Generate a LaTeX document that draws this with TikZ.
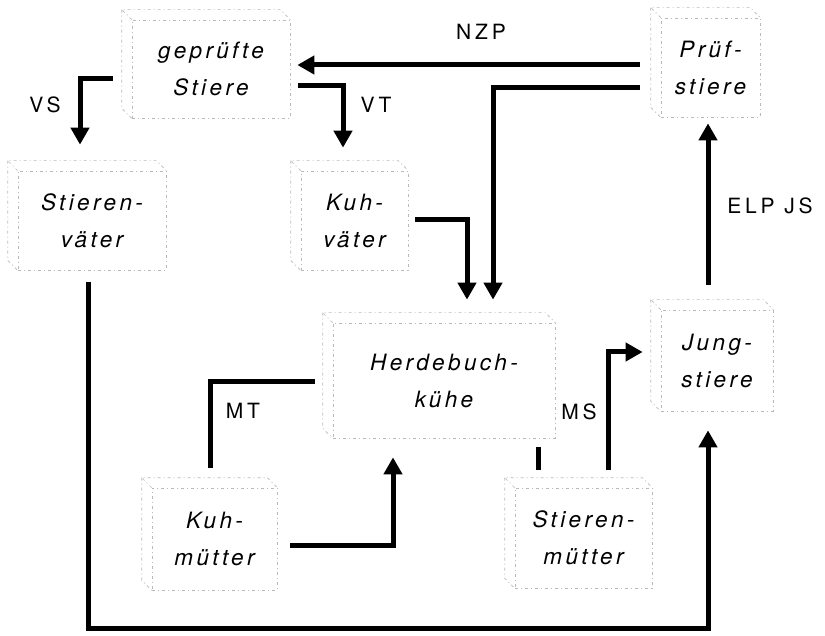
\documentclass[tikz,border=0pt]{standalone}
\usepackage{fontspec}
\setmainfont{TeX Gyre Heros}
\newfontfamily\stagefont[LetterSpace=15]{TeX Gyre Heros}
\newfontfamily\flowfont[LetterSpace=18]{TeX Gyre Heros}
\usetikzlibrary{arrows.meta,calc}

\tikzset{
  stage/.style={rectangle, inner sep=0pt, align=center,
    draw=gray!55, line width=0.7pt, dash pattern=on 3pt off 3pt on 1pt off 3pt,
    font=\stagefont\itshape\fontsize{22.5}{37}\selectfont},
  cubeline/.style={draw=gray!55, line width=0.7pt, dash pattern=on 3pt off 3pt on 1pt off 3pt},
  flow/.style={line width=5pt, line join=miter, -{Triangle[width=18pt,length=17pt]}},
  link/.style={line width=5pt, line join=miter},
  lab/.style={inner sep=0pt, font=\flowfont\fontsize{21}{24}\selectfont}
}

% back face of a stage box, shifted up and to the left
\newcommand\cubeedges[1]{%
  \draw[cubeline] (#1.north west) -- ++(-10,-10) coordinate (#1-b)
    -- ($(#1.north east)+(-10,-10)$) -- (#1.north east);
  \draw[cubeline] (#1-b) -- ($(#1.south west)+(-10,-10)$) -- (#1.south west);
}

\begin{document}
\begin{tikzpicture}[x=1pt, y=-1pt]
  \fill[white] (0,0) rectangle (825,636);
  \useasboundingbox (0,0) rectangle (825,636);

  % breeding stages
  \node[stage, minimum width=158pt, minimum height=98pt]  (gs) at (211,69)    {geprüfte\\Stiere};
  \node[stage, minimum width=99pt,  minimum height=99pt]  (pr) at (710.5,67.5) {Prüf-\\stiere};
  \node[stage, minimum width=148pt, minimum height=99pt]  (sv) at (92,220.5)  {Stieren-\\väter};
  \node[stage, minimum width=107pt, minimum height=99pt]  (kv) at (354.5,220.5) {Kuh-\\väter};
  \node[stage, minimum width=222pt, minimum height=115pt] (hb) at (444,380.5) {Herdebuch-\\kühe};
  \node[stage, minimum width=112pt, minimum height=101pt] (js) at (717,360.5) {Jung-\\stiere};
  \node[stage, minimum width=125pt, minimum height=102pt] (km) at (214.5,539) {Kuh-\\mütter};
  \node[stage, minimum width=137pt, minimum height=100pt] (sm) at (583.5,538) {Stieren-\\mütter};

  \foreach \n in {gs,pr,sv,kv,hb,js,km,sm} {\cubeedges{\n}}

  % selection paths
  \draw[flow] ($(pr.west)+(-21,-2.5)$) -- ($(gs.east)+(7,-4)$);
  \draw[flow] ($(pr.west)+(-21,20.5)$) -| ($(hb.north)+(49,-23)$);
  \draw[flow] ($(gs.east)+(8,17)$) -| ($(kv.north)+(-11.5,-23)$);
  \draw[flow] ($(gs.west)+(-19,10)$) -| ($(sv.north)+(-12,-26)$);
  \draw[flow] ($(kv.east)+(7,-0.5)$) -| ($(hb.north)+(23,-23)$);
  \draw[flow] ($(js.north)+(-9,-25)$) -- ($(pr.south)+(-2.5,6)$);
  \draw[flow] ($(sv.south)+(-4,12)$) -- ++(0,346) -| ($(js.south)+(-9,19)$);
  \draw[link] ($(hb.west)+(-18,1.5)$) -| ($(km.north)+(-4.5,-20)$);
  \draw[flow] ($(km.east)+(13,6)$) -| ($(hb.south)+(-51,19)$);
  \draw[link] ($(hb.south)+(94,9)$) -- ($(sm.north)+(-45.5,-18)$);
  \draw[flow] ($(sm.north)+(24.5,-18)$) |- ($(js.west)+(-18,-8.5)$);

  % path labels
  \node[lab] (nzp) at (481,32)  {NZP};
  \node[lab] (vt)  at (376,105) {VT};
  \node[lab] (vs)  at (45,105)  {VS};
  \node[lab] (elp) at (770,206) {ELP JS};
  \node[lab] (mt)  at (243,411) {MT};
  \node[lab] (ms)  at (579,412) {MS};
\end{tikzpicture}
\end{document}
